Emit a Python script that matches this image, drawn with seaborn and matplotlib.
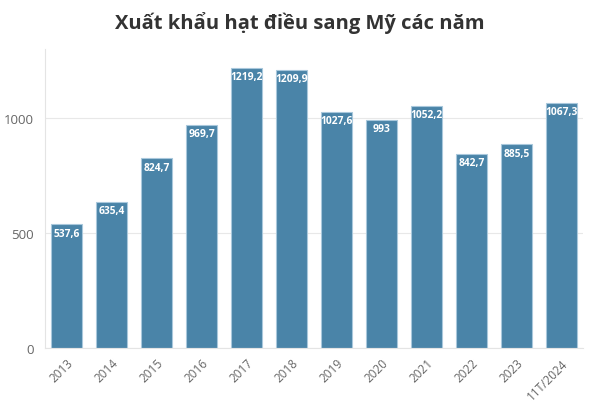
import pandas as pd
import seaborn as sns
import matplotlib.pyplot as plt

# Data
years = ["2013", "2014", "2015", "2016", "2017", "2018", "2019", "2020",
         "2021", "2022", "2023", "11T/2024"]
values = [537.6, 635.4, 824.7, 969.7, 1219.2, 1209.9, 1027.6, 993,
          1052.2, 842.7, 885.5, 1067.3]
y_ticks = [0, 500, 1000]

df = pd.DataFrame({"year": years, "value": values})

sns.set_theme(style="white")
plt.rcParams["font.family"] = ["Open Sans", "DejaVu Sans"]

fig = plt.figure(figsize=(6, 4.1), dpi=100)
ax = fig.add_axes([0.075, 0.149, 0.897, 0.729])

bar_color = "#4a84a8"
sns.barplot(data=df, x="year", y="value", color=bar_color, width=0.69,
            edgecolor="#a9c8dc", linewidth=0.8, saturation=1, ax=ax)

# Value labels inside the top of each bar
for i, v in enumerate(values):
    label = f"{v:g}".replace(".", ",")
    ax.text(i, v - 14, label, ha="center", va="top", color="white",
            fontsize=7.4, fontweight="bold")

ax.set_xlim(-0.48, 11.48)
ax.set_ylim(0, 1300)
ax.set_yticks(y_ticks)
ax.set_yticklabels([str(t) for t in y_ticks], color="#666666", fontsize=9.5)
ax.yaxis.grid(True, color="#e8e8e8", linewidth=0.8)
ax.set_axisbelow(True)
ax.set_xlabel("")
ax.set_ylabel("")
ax.tick_params(axis="y", length=0, pad=8)
ax.tick_params(axis="x", length=3, color="#dddddd", pad=3)
plt.setp(ax.get_xticklabels(), rotation=45, ha="right", rotation_mode="anchor",
         color="#666666", fontsize=8.5)

for side in ["top", "right"]:
    ax.spines[side].set_visible(False)
ax.spines["left"].set_color("#e4e4e4")
ax.spines["bottom"].set_color("#e4e4e4")
ax.spines["left"].set_linewidth(0.8)
ax.spines["bottom"].set_linewidth(0.8)

fig.text(0.5, 0.944, "Xuất khẩu hạt điều sang Mỹ các năm", ha="center",
         va="center", fontsize=14.5, fontweight="bold", color="#333333")

fig.savefig("out.png", dpi=100, facecolor="white")
